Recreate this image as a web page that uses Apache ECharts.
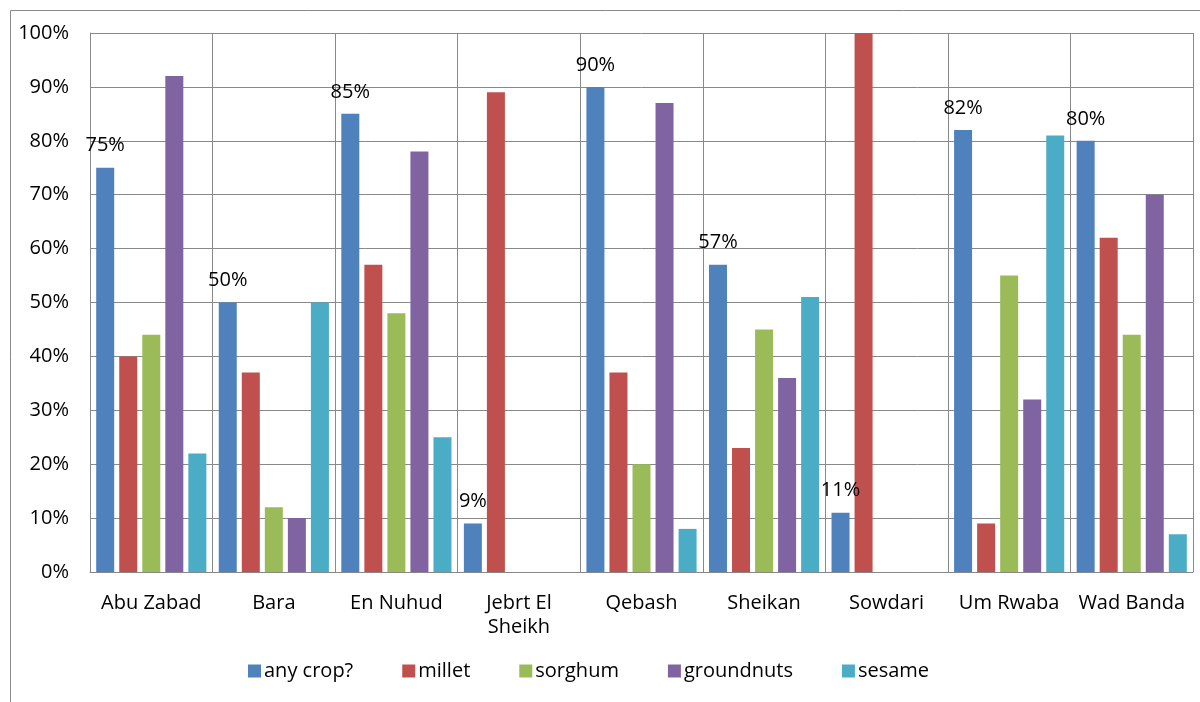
<!DOCTYPE html>
<html>
<head>
<meta charset="utf-8">
<script src="https://cdn.jsdelivr.net/npm/echarts@6/dist/echarts.min.js"></script>
<style>
  html, body { margin: 0; padding: 0; background: #fff; }
  #chart { width: 1200px; height: 702px; }
</style>
</head>
<body>
<div id="chart"></div>
<script>
// Localities in North Kordofan
const categories = ['Abu Zabad', 'Bara', 'En Nuhud', 'Jebrt El\nSheikh', 'Qebash', 'Sheikan', 'Sowdari', 'Um Rwaba', 'Wad Banda'];

// Share of households growing each crop (%)
const anyCrop    = [75, 50, 85, 9, 90, 57, 11, 82, 80];
const millet     = [40, 37, 57, 89, 37, 23, 100, 9, 62];
const sorghum    = [44, 12, 48, 0, 20, 45, 0, 55, 44];
const groundnuts = [92, 10, 78, 0, 87, 36, 0, 32, 70];
const sesame     = [22, 50, 25, 0, 8, 51, 0, 81, 7];

const seriesNames = ['any crop?', 'millet', 'sorghum', 'groundnuts', 'sesame'];
const seriesData = [anyCrop, millet, sorghum, groundnuts, sesame];
const colors = ['#4F81BD', '#C0504D', '#9BBB59', '#8064A2', '#4BACC6'];

const FONT = '"Open Sans", Lato, sans-serif';
const grey = '#898989';

const chart = echarts.init(document.getElementById('chart'));

const series = seriesNames.map((name, i) => ({
  name,
  type: 'bar',
  data: seriesData[i],
  barWidth: 18,
  barGap: '28%',
  itemStyle: { color: colors[i] },
  label: i === 0 ? {
    show: true,
    position: 'top',
    distance: 12,
    color: '#000',
    fontFamily: FONT,
    fontSize: 20,
    formatter: p => p.value + '%'
  } : { show: false },
  emphasis: { disabled: true }
}));

chart.setOption({
  animation: false,
  color: colors,
  textStyle: { fontFamily: FONT },
  grid: { left: 90, right: 7, top: 33, bottom: 130, containLabel: false },
  graphic: [{
    type: 'rect',
    shape: { x: 10.5, y: 10.5, width: 1200, height: 720 },
    style: { fill: 'none', stroke: grey, lineWidth: 1 },
    silent: true
  }],
  xAxis: {
    type: 'category',
    data: categories,
    boundaryGap: true,
    axisLine: { show: true, lineStyle: { color: grey, width: 1 } },
    axisTick: { show: false },
    splitLine: { show: true, lineStyle: { color: grey, width: 1 } },
    axisLabel: {
      interval: 0,
      color: '#000',
      fontFamily: FONT,
      fontSize: 20,
      margin: 19,
      lineHeight: 24
    }
  },
  yAxis: {
    type: 'value',
    min: 0,
    max: 100,
    interval: 10,
    axisLine: { show: true, lineStyle: { color: grey, width: 1 } },
    axisTick: { show: false },
    splitLine: { show: true, lineStyle: { color: grey, width: 1 } },
    axisLabel: {
      color: '#000',
      fontFamily: FONT,
      fontSize: 20,
      margin: 21,
      formatter: v => v + '%'
    }
  },
  legend: {
    data: seriesNames,
    bottom: 16,
    left: 243,
    itemWidth: 13,
    itemHeight: 13,
    itemGap: 49,
    icon: 'rect',
    textStyle: { color: '#000', fontFamily: FONT, fontSize: 20, padding: [0, 0, 0, -2] }
  },
  series
});
</script>
</body>
</html>
